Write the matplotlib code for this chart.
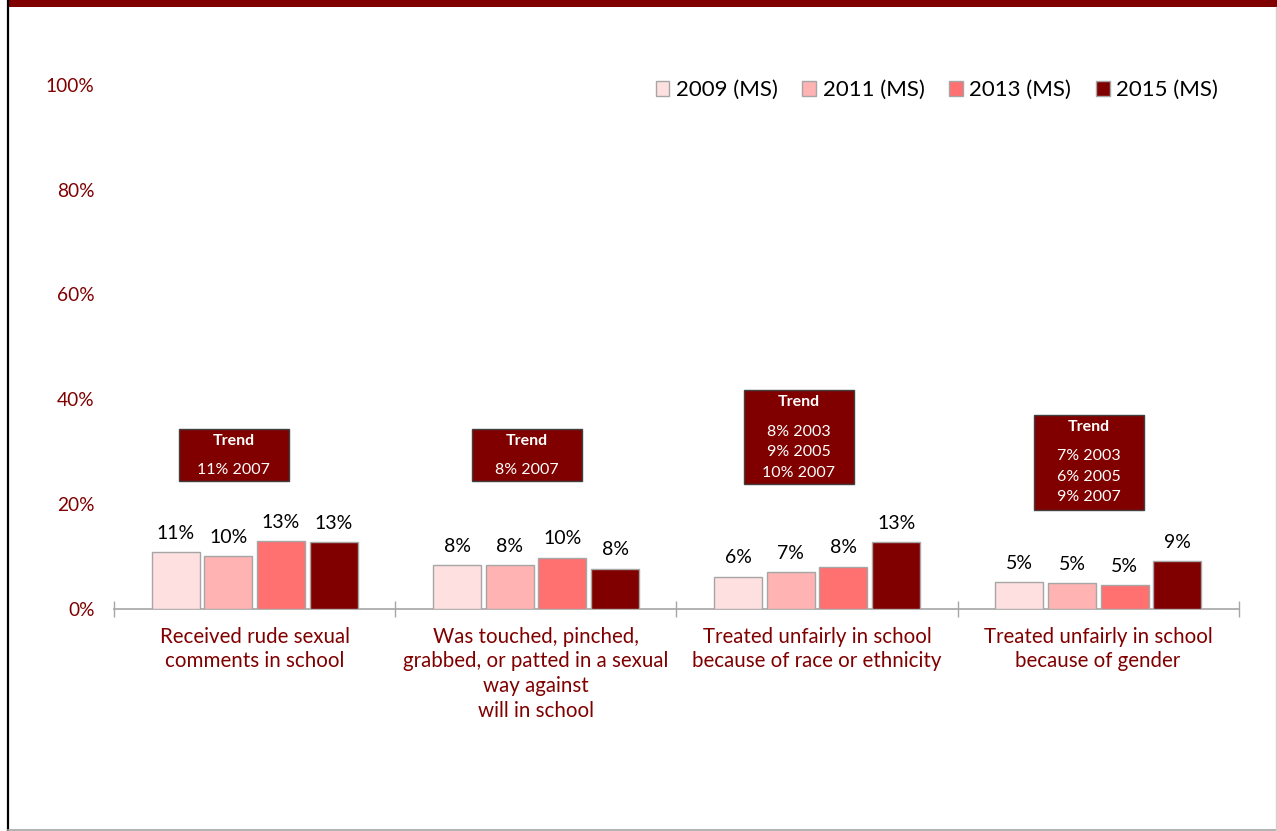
import matplotlib
matplotlib.use("Agg")
import matplotlib.pyplot as plt
from matplotlib.patches import Rectangle
from matplotlib.lines import Line2D
import numpy as np

plt.rcParams['font.family'] = ['Lato', 'DejaVu Sans']

categories = [
    "Received rude sexual\ncomments in school",
    "Was touched, pinched,\ngrabbed, or patted in a sexual\nway against\nwill in school",
    "Treated unfairly in school\nbecause of race or ethnicity",
    "Treated unfairly in school\nbecause of gender",
]
series_names = ["2009 (MS)", "2011 (MS)", "2013 (MS)", "2015 (MS)"]
v2009 = [10.7, 8.3, 6.1, 5.1]
v2011 = [10.0, 8.3, 7.0, 4.8]
v2013 = [12.9, 9.7, 8.0, 4.5]
v2015 = [12.7, 7.6, 12.7, 9.0]
label2009 = ["11%", "8%", "6%", "5%"]
label2011 = ["10%", "8%", "7%", "5%"]
label2013 = ["13%", "10%", "8%", "5%"]
label2015 = ["13%", "8%", "13%", "9%"]
trend_lines = [
    ["11% 2007"],
    ["8% 2007"],
    ["8% 2003", "9% 2005", "10% 2007"],
    ["7% 2003", "6% 2005", "9% 2007"],
]
yticks = [0, 20, 40, 60, 80, 100]
ytick_labels = ["0%", "20%", "40%", "60%", "80%", "100%"]

colors = ["#FEE0E0", "#FFB3B3", "#FF7070", "#800000"]
dark_red = "#800000"

W, H = 1277, 831
fig = plt.figure(figsize=(W / 100, H / 100), dpi=100)
ax = fig.add_axes([114 / W, 1 - 608.5 / H, (1238.7 - 114) / W, (608.5 - 85) / H])

x = np.arange(len(categories))
offsets = [-0.28, -0.093, 0.094, 0.282]
width = 0.171
all_vals = [v2009, v2011, v2013, v2015]
all_labels = [label2009, label2011, label2013, label2015]
for i, (vals, labs) in enumerate(zip(all_vals, all_labels)):
    bars = ax.bar(x + offsets[i], vals, width, color=colors[i], edgecolor="#A6A6A6",
                  linewidth=1.0, label=series_names[i], zorder=3)
    for b, lab in zip(bars, labs):
        ax.annotate(lab, (b.get_x() + b.get_width() / 2, b.get_height()),
                    xytext=(0, 13.5), textcoords="offset points", ha="center", va="center",
                    fontsize=14, color="black")

ax.set_xlim(-0.5, 3.5)
ax.set_ylim(0, 100)
ax.set_yticks(yticks)
ax.set_yticklabels(ytick_labels)
ax.tick_params(axis="y", length=0, pad=14, labelsize=13.8, labelcolor=dark_red)
ax.set_xticks(x)
ax.set_xticklabels(categories, fontsize=14.8, color=dark_red, linespacing=1.3)
ax.tick_params(axis="x", which="major", length=0, pad=13)
ax.set_xticks(np.arange(-0.5, 4.0, 1.0), minor=True)
ax.tick_params(axis="x", which="minor", direction="inout", length=12, color="#A6A6A6", width=1)
for s in ["top", "right", "left"]:
    ax.spines[s].set_visible(False)
ax.spines["bottom"].set_color("#A6A6A6")
ax.spines["bottom"].set_linewidth(1.2)

# Trend boxes (x0, x1, y_bottom, y_top in data units)
boxes = [(-0.269, 0.122, 24.4, 34.3), (0.773, 1.164, 24.4, 34.3),
         (1.740, 2.132, 23.8, 41.7), (2.772, 3.163, 18.8, 37.0)]
for (x0, x1, yb, yt), lines in zip(boxes, trend_lines):
    ax.add_patch(Rectangle((x0, yb), x1 - x0, yt - yb, facecolor=dark_red,
                           edgecolor="#404040", linewidth=1, zorder=4))
    cx = (x0 + x1) / 2
    ax.text(cx, yt - 12 / 5.235, "Trend", ha="center", va="center", color="white",
            fontsize=11.5, fontweight="bold", zorder=5)
    for k, ln in enumerate(lines):
        ax.text(cx, yt - (41.5 + 20.5 * k) / 5.235, ln, ha="center", va="center",
                color="white", fontsize=11.5, zorder=5)

leg = ax.legend(loc="upper right", bbox_to_anchor=(0.9896, 1.026), ncol=4, frameon=False,
                fontsize=16, handlelength=0.62, handleheight=0.62, handletextpad=0.3,
                columnspacing=1.1, borderaxespad=0)

# Frame decorations
fig.patches.append(Rectangle((8 / W, 1 - 7.3 / H), 1 - 8 / W, 7.3 / H,
                             transform=fig.transFigure, facecolor=dark_red, edgecolor="none"))
fig.lines.append(Line2D([8.3 / W, 8.3 / W], [0, 1], transform=fig.transFigure,
                        color="black", linewidth=1.6))
fig.lines.append(Line2D([8 / W, 1], [1.5 / H, 1.5 / H], transform=fig.transFigure,
                        color="#A6A6A6", linewidth=1.2))
fig.lines.append(Line2D([1 - 1.2 / W, 1 - 1.2 / W], [0, 1 - 7 / H], transform=fig.transFigure,
                        color="#D0D0D0", linewidth=1.0))

fig.savefig("out.png", dpi=100)
